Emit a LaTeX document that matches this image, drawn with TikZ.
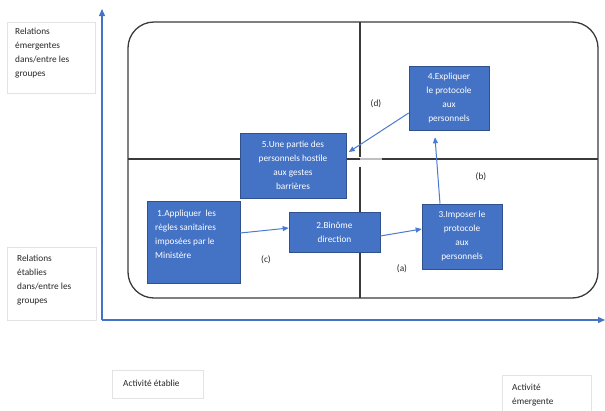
\documentclass[tikz,border=0pt]{standalone}
\usepackage{fontspec}
\setmainfont{Carlito}
\usetikzlibrary{arrows.meta}
\definecolor{officeblue}{HTML}{4472C4}
\definecolor{boxedge}{HTML}{2F528F}
\definecolor{arrowblue}{HTML}{4A7BD0}
\definecolor{frameline}{HTML}{3A3A3A}
\definecolor{labeltext}{HTML}{262626}
\definecolor{labeledge}{HTML}{E3E3E3}
\tikzset{
  txt/.style={font=\fontsize{9.3}{14}\selectfont},
  bluebox/.style={draw=boxedge, line width=0.6pt, fill=officeblue, inner sep=0pt},
  boxtext/.style={txt, text=white, align=center, inner sep=0pt},
  axislabel/.style={txt, text=labeltext, draw=labeledge, line width=0.4pt, align=left, inner sep=0pt},
  flow/.style={draw=arrowblue, line width=1pt, -{Triangle[length=6pt,width=5pt]}},
  axis/.style={draw=officeblue, line width=1.3pt, -{Triangle[length=7pt,width=6pt]}},
  divider/.style={draw=frameline, line width=1.1pt},
  tag/.style={txt, text=labeltext, inner sep=0pt},
}
\begin{document}
\begin{tikzpicture}[x=1pt,y=-1pt]
\useasboundingbox (0,0) rectangle (605,410);

% axes
\coordinate (origin) at (102,320);
\coordinate (ytop) at (102,9);
\coordinate (xend) at (605,320);
\draw[axis] (origin) -- (ytop);
\draw[axis] (origin) -- (xend);

% rounded frame and quadrant dividers
\draw[frameline, line width=1.3pt, rounded corners=26pt] (128,22) rectangle (598,298);
\draw[divider] (360,22) -- (360,157);
\draw[divider] (360,167) -- (360,298);
\draw[divider] (128,159) -- (360,159);
\draw[draw=black!25, line width=1.1pt] (360,159) -- (382,159);
\draw[divider] (382,159) -- (598,159);

% axis labels
\node[axislabel, minimum width=88, minimum height=71, anchor=north west] (lblEm) at (7,22) {};
\node[tag, anchor=north west, align=left] at (15,28) {Relations\\émergentes\\dans/entre les\\groupes};
\node[axislabel, minimum width=89, minimum height=73, anchor=north west] (lblAt) at (7,247) {};
\node[tag, anchor=north west, align=left] at (17,255) {Relations\\établies\\dans/entre les\\groupes};
\node[axislabel, minimum width=91, minimum height=28, anchor=north west] (lblAe) at (112,370) {};
\node[tag, anchor=west] at (123,383) {Activité établie};
\node[axislabel, minimum width=89, minimum height=36, anchor=north west] (lblAm) at (502,375) {};
\node[tag, anchor=north west, align=left] at (512,384) {Activité\\émergente};

% steps
\node[bluebox, minimum width=93, minimum height=82] (n1) at (193.5,242) {};
\node[boxtext, align=left, anchor=north west] at (155,210) {\hspace{2pt}1.Appliquer\ \ les\\règles sanitaires\\imposées par le\\Ministère};
\node[bluebox, minimum width=91, minimum height=40] (n2) at (334.5,232) {};
\node[boxtext] at (n2) {2.Binôme\\direction};
\node[bluebox, minimum width=80, minimum height=65] (n3) at (462,236.5) {};
\node[boxtext] at (n3) {3.Imposer le\\protocole\\aux\\personnels};
\node[bluebox, minimum width=80, minimum height=64] (n4) at (449,98) {};
\node[boxtext] at (n4) {4.Expliquer\\le protocole\\aux\\personnels};
\node[bluebox, minimum width=106, minimum height=65] (n5) at (293,165.5) {};
\node[boxtext] at (n5) {5.Une partie des\\personnels hostile\\aux gestes\\barrières};

% transitions
\draw[flow] ([yshift=9pt]n1.east) -- ([yshift=4pt]n2.west);
\draw[flow] ([yshift=-4pt]n2.east) -- ([yshift=7.5pt]n3.west);
\draw[flow] ([xshift=-22pt]n3.north) -- ([xshift=-14pt,yshift=-7pt]n4.south);
\draw[flow] ([yshift=-15pt]n4.west) -- ([xshift=2.5pt,yshift=13.5pt]n5.east);

% transition tags
\node[tag] (ta) at (402,269) {(a)};
\node[tag] (tb) at (481,177) {(b)};
\node[tag] (tc) at (266,260) {(c)};
\node[tag] (td) at (376,104) {(d)};
\end{tikzpicture}
\end{document}
